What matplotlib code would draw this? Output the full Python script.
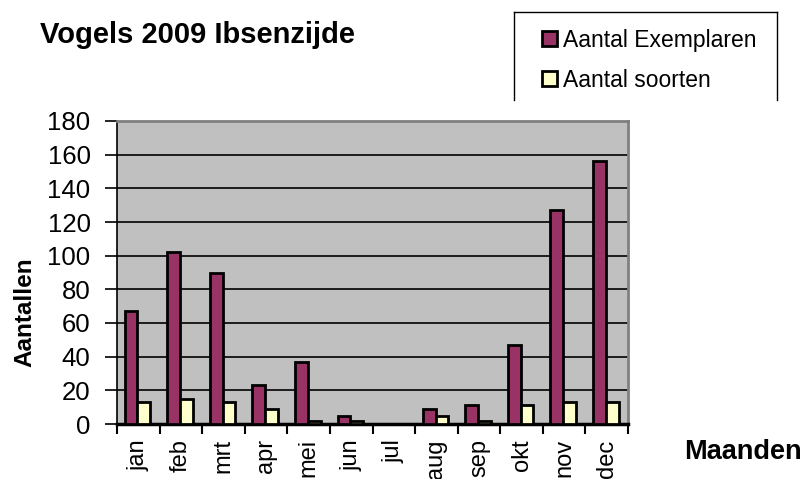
import matplotlib
matplotlib.use("Agg")
import matplotlib.pyplot as plt
import numpy as np
from matplotlib.lines import Line2D

# Vogels 2009 Ibsenzijde
maanden = ['jan', 'feb', 'mrt', 'apr', 'mei', 'jun', 'jul', 'aug', 'sep', 'okt', 'nov', 'dec']
exemplaren = [67, 102, 90, 23, 37, 5, 0, 9, 11, 47, 127, 156]
soorten = [13, 15, 13, 9, 2, 2, 0, 5, 2, 11, 13, 13]

plt.rcParams['font.family'] = ['Liberation Sans', 'DejaVu Sans']

fig = plt.figure(figsize=(8.08, 4.79), dpi=100)
ax = fig.add_axes([117/808, 1-424/479, 511/808, 303/479])
ax.set_facecolor('#C0C0C0')

x = np.arange(len(maanden))
w = 0.3
b1 = ax.bar(x - w/2 - 0.02, exemplaren, w, color='#993366', edgecolor='black', linewidth=2,
            label='Aantal Exemplaren', zorder=3)
b2 = ax.bar(x + w/2 - 0.02, soorten, w, color='#FFFFCC', edgecolor='black', linewidth=2,
            label='Aantal soorten', zorder=3)

ax.set_xlim(-0.5, len(maanden) - 0.5)
ax.set_ylim(0, 180)
ax.set_yticks(range(0, 181, 20))
ax.yaxis.grid(True, color='black', linewidth=1.2, zorder=1)
ax.tick_params(axis='y', labelsize=18.5, length=9, width=1.2, pad=10)

ax.set_xticks(x)
ax.set_xticklabels(maanden, rotation=90, fontsize=17)
ax.tick_params(axis='x', which='major', length=0, pad=11)
ax.set_xticks(np.arange(-0.5, len(maanden)), minor=True)
ax.tick_params(axis='x', which='minor', length=7, width=1.5)

for s in ['top', 'right']:
    ax.spines[s].set_color('#808080')
    ax.spines[s].set_linewidth(2)
ax.spines['left'].set_linewidth(1.2)
ax.spines['bottom'].set_linewidth(2.5)

fig.text(40/808, 1-35/479, 'Vogels 2009 Ibsenzijde', fontsize=21, fontweight='bold', va='center')
fig.text(25/808, 1-312/479, 'Aantallen', fontsize=17.5, fontweight='bold', rotation=90,
         ha='center', va='center')
fig.text(684/808, 1-452/479, 'Maanden', fontsize=19.5, fontweight='bold', va='center')

leg = fig.legend(handles=[b1, b2], loc='upper left', bbox_to_anchor=(521/808, 1-8/479),
                 frameon=False, fontsize=16.5, handlelength=0.65, handleheight=0.65,
                 handletextpad=0.3, labelspacing=0.75)

# legend frame (open at the bottom)
for xs, ys in [((514, 514), (100, 12)), ((514, 777), (12, 12)), ((777, 777), (12, 100))]:
    fig.add_artist(Line2D([v/808 for v in xs], [1-v/479 for v in ys], color='black', linewidth=1))

fig.savefig('out.png', dpi=100)
